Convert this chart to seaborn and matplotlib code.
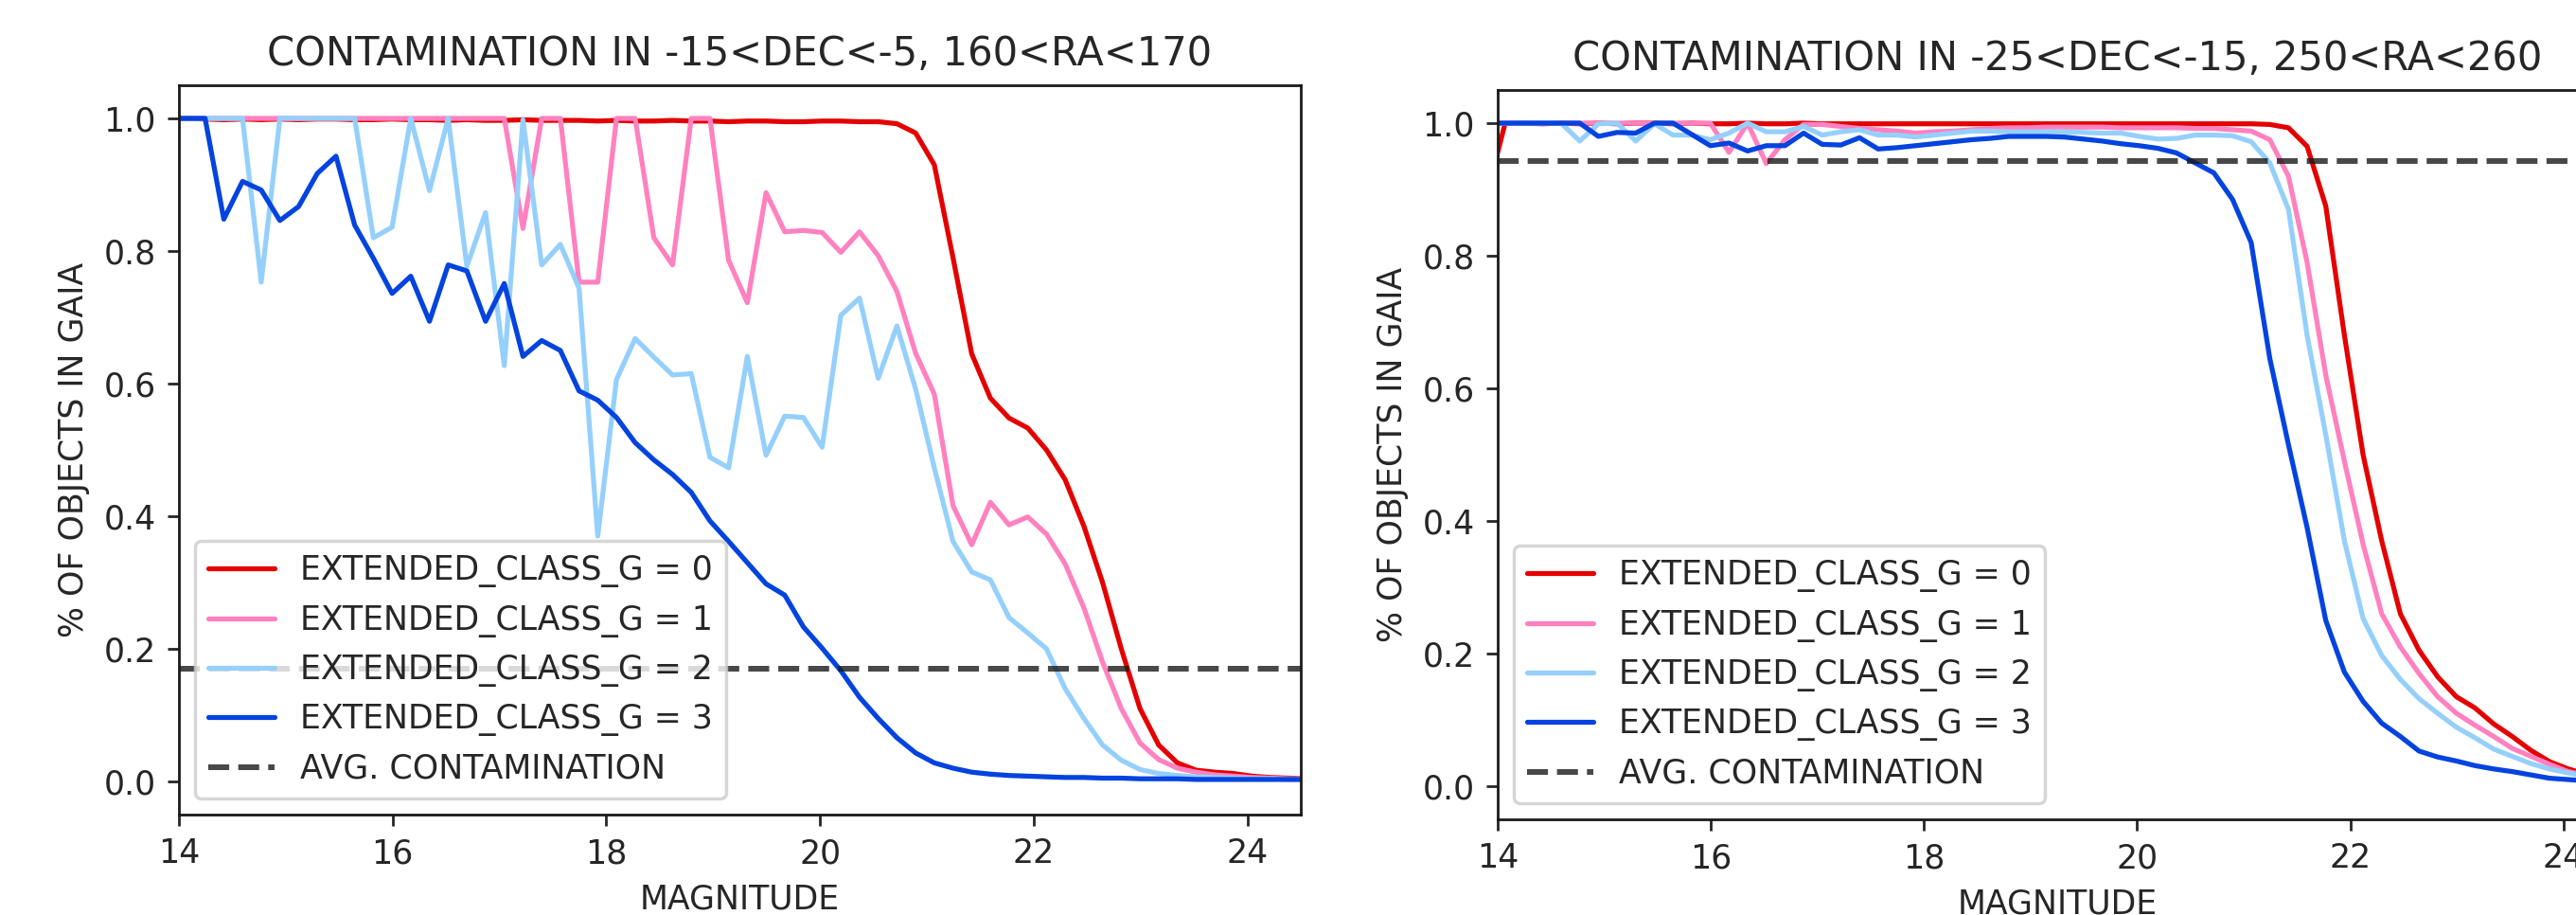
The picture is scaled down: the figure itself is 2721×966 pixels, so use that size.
import matplotlib
matplotlib.use("Agg")
import matplotlib.pyplot as plt
import seaborn as sns

# magnitude bins (bin centres)
MAG = [13.895, 14.070, 14.245, 14.420, 14.595, 14.770, 14.945, 15.120, 15.295, 15.470,
       15.645, 15.820, 15.995, 16.170, 16.345, 16.520, 16.695, 16.870, 17.045, 17.220,
       17.395, 17.570, 17.745, 17.920, 18.095, 18.270, 18.445, 18.620, 18.795, 18.970,
       19.145, 19.320, 19.495, 19.670, 19.845, 20.020, 20.195, 20.370, 20.545, 20.720,
       20.895, 21.070, 21.245, 21.420, 21.595, 21.770, 21.945, 22.120, 22.295, 22.470,
       22.645, 22.820, 22.995, 23.170, 23.345, 23.520, 23.695, 23.870, 24.045, 24.220,
       24.395, 24.570]

# field 1: -15<DEC<-5, 160<RA<170
LEFT_G0 = [1.0, 1.0, 0.999, 0.998, 0.999, 0.998, 0.999, 0.998, 0.999, 0.999,
           0.998, 0.998, 0.999, 0.998, 0.998, 0.997, 0.998, 0.997, 0.997, 0.998,
           0.997, 0.997, 0.997, 0.996, 0.997, 0.996, 0.996, 0.997, 0.996, 0.996,
           0.995, 0.996, 0.996, 0.995, 0.995, 0.996, 0.996, 0.995, 0.995, 0.992,
           0.978, 0.93, 0.79, 0.645, 0.578, 0.548, 0.533, 0.50, 0.455, 0.385,
           0.30, 0.20, 0.11, 0.055, 0.028, 0.017, 0.014, 0.012, 0.008, 0.006,
           0.005, 0.004]
LEFT_G1 = [1.0, 1.0, 1.0, 1.0, 1.0, 1.0, 1.0, 1.0, 1.0, 1.0,
           1.0, 1.0, 1.0, 1.0, 1.0, 1.0, 1.0, 1.0, 1.0, 0.834,
           1.0, 1.0, 0.753, 0.753, 1.0, 1.0, 0.820, 0.779, 1.0, 1.0,
           0.786, 0.722, 0.888, 0.829, 0.831, 0.828, 0.798, 0.829, 0.793, 0.739,
           0.646, 0.584, 0.416, 0.357, 0.421, 0.387, 0.399, 0.373, 0.328, 0.262,
           0.18, 0.11, 0.058, 0.033, 0.02, 0.014, 0.01, 0.008, 0.006, 0.005,
           0.004, 0.004]
LEFT_G2 = [1.0, 1.0, 1.0, 1.0, 1.0, 0.753, 1.0, 1.0, 1.0, 1.0,
           1.0, 0.820, 0.836, 1.0, 0.891, 1.0, 0.777, 0.858, 0.627, 0.998,
           0.779, 0.810, 0.744, 0.37, 0.606, 0.668, 0.64, 0.613, 0.615, 0.489,
           0.473, 0.641, 0.492, 0.551, 0.549, 0.504, 0.703, 0.729, 0.608, 0.687,
           0.592, 0.473, 0.362, 0.316, 0.304, 0.247, 0.224, 0.200, 0.14, 0.095,
           0.055, 0.032, 0.018, 0.012, 0.009, 0.007, 0.006, 0.005, 0.004, 0.004,
           0.003, 0.003]
LEFT_G3 = [1.0, 1.0, 1.0, 0.848, 0.905, 0.892, 0.846, 0.867, 0.917, 0.943,
           0.839, 0.789, 0.736, 0.762, 0.694, 0.779, 0.770, 0.694, 0.751, 0.641,
           0.665, 0.650, 0.589, 0.575, 0.549, 0.511, 0.485, 0.463, 0.436, 0.393,
           0.362, 0.33, 0.298, 0.281, 0.233, 0.201, 0.167, 0.127, 0.095, 0.066,
           0.043, 0.028, 0.02, 0.014, 0.011, 0.009, 0.008, 0.007, 0.006, 0.006,
           0.005, 0.005, 0.004, 0.004, 0.004, 0.003, 0.003, 0.003, 0.003, 0.003,
           0.003, 0.003]
LEFT_AVG = 0.17

# field 2: -25<DEC<-15, 250<RA<260
RIGHT_G0 = [0.89, 1.0, 1.0, 0.999, 1.0, 0.999, 1.0, 0.999, 1.0, 1.0,
            0.999, 1.0, 0.999, 0.999, 1.0, 0.999, 0.999, 1.0, 0.999, 0.999,
            0.999, 0.999, 0.999, 0.999, 0.999, 0.999, 0.999, 0.999, 0.999, 0.999,
            0.999, 0.999, 0.999, 0.999, 0.999, 0.999, 0.999, 0.999, 0.999, 0.999,
            0.999, 0.999, 0.998, 0.993, 0.965, 0.875, 0.68, 0.50, 0.37, 0.26,
            0.205, 0.165, 0.135, 0.118, 0.094, 0.075, 0.054, 0.037, 0.026, 0.018,
            0.014, 0.012]
RIGHT_G1 = [1.0, 1.0, 1.0, 1.0, 1.0, 1.0, 1.0, 1.0, 1.0, 1.0,
            1.0, 1.0, 1.0, 0.956, 1.0, 0.939, 0.975, 0.998, 0.998, 0.995,
            0.992, 0.99, 0.988, 0.985, 0.987, 0.988, 0.99, 0.992, 0.993, 0.993,
            0.994, 0.994, 0.994, 0.994, 0.993, 0.993, 0.993, 0.993, 0.992, 0.992,
            0.99, 0.988, 0.975, 0.92, 0.79, 0.62, 0.49, 0.365, 0.26, 0.21,
            0.17, 0.135, 0.11, 0.092, 0.075, 0.057, 0.045, 0.033, 0.022, 0.016,
            0.012, 0.01]
RIGHT_G2 = [1.0, 1.0, 1.0, 1.0, 1.0, 0.973, 0.999, 1.0, 0.973, 0.999,
            0.982, 0.982, 0.975, 0.985, 1.0, 0.987, 0.987, 0.995, 0.982, 0.987,
            0.99, 0.982, 0.982, 0.979, 0.982, 0.985, 0.988, 0.988, 0.987, 0.987,
            0.987, 0.987, 0.986, 0.985, 0.985, 0.980, 0.976, 0.977, 0.982, 0.982,
            0.981, 0.972, 0.94, 0.87, 0.68, 0.53, 0.37, 0.253, 0.197, 0.161,
            0.132, 0.11, 0.089, 0.073, 0.056, 0.045, 0.034, 0.026, 0.02, 0.015,
            0.012, 0.01]
RIGHT_G3 = [1.0, 1.0, 1.0, 1.0, 1.0, 1.0, 0.980, 0.986, 0.985, 1.0,
            1.0, 0.983, 0.966, 0.970, 0.958, 0.966, 0.966, 0.985, 0.968, 0.967,
            0.978, 0.961, 0.963, 0.966, 0.969, 0.972, 0.975, 0.977, 0.980, 0.980,
            0.980, 0.979, 0.976, 0.973, 0.969, 0.966, 0.962, 0.955, 0.940, 0.925,
            0.885, 0.82, 0.645, 0.515, 0.39, 0.25, 0.172, 0.128, 0.095, 0.075,
            0.053, 0.044, 0.038, 0.031, 0.026, 0.022, 0.017, 0.012, 0.01, 0.008,
            0.007, 0.006]
RIGHT_AVG = 0.943

CLASS_LABELS = ["EXTENDED_CLASS_G = 0", "EXTENDED_CLASS_G = 1",
                "EXTENDED_CLASS_G = 2", "EXTENDED_CLASS_G = 3"]
COLORS = sns.xkcd_palette(["red", "pink", "light blue", "blue"])


def plot_contamination(ax, curves, avg, title):
    """
        Fraction of objects found in Gaia per magnitude bin, one line per class
    """
    for frac, label, color in zip(curves, CLASS_LABELS, COLORS):
        sns.lineplot(x=MAG, y=frac, color=color, label=label, ax=ax)
    ax.axhline(avg, color='k', ls='--', lw=4.3, alpha=0.8, label='AVG. CONTAMINATION')
    ax.set_xlim(14, 24.5)
    ax.set_ylim(-0.05, 1.05)
    ax.set_xticks([14, 16, 18, 20, 22, 24])
    ax.set_yticks([0.0, 0.2, 0.4, 0.6, 0.8, 1.0])
    ax.set_title(title)
    ax.set_xlabel('MAGNITUDE')
    ax.set_ylabel('% OF OBJECTS IN GAIA')
    ax.legend(loc='lower left')


sns.set_theme(style="ticks")
plt.rcParams.update({
    'font.family': ['DejaVu Sans'],
    'font.size': 25,
    'axes.titlesize': 30,
    'axes.labelsize': 25,
    'xtick.labelsize': 25,
    'ytick.labelsize': 25,
    'legend.fontsize': 25,
    'lines.linewidth': 3.75,
    'axes.linewidth': 2.0,
    'axes.edgecolor': 'k',
    'xtick.major.size': 8.75,
    'ytick.major.size': 8.75,
    'xtick.major.width': 2.0,
    'ytick.major.width': 2.0,
    'xtick.major.pad': 8.75,
    'ytick.major.pad': 8.75,
    'axes.labelpad': 10,
    'axes.titlepad': 15,
    'patch.linewidth': 2.5,
})

fig = plt.figure(figsize=(27.21, 9.66), dpi=100)
ax1 = fig.add_axes([189 / 2721, 1 - 860 / 966, 1185 / 2721, 770 / 966])
ax2 = fig.add_axes([1582 / 2721, 1 - 865 / 966, 1182 / 2721, 770 / 966])

plot_contamination(ax1, [LEFT_G0, LEFT_G1, LEFT_G2, LEFT_G3], LEFT_AVG,
                   'CONTAMINATION IN -15<DEC<-5, 160<RA<170')
plot_contamination(ax2, [RIGHT_G0, RIGHT_G1, RIGHT_G2, RIGHT_G3], RIGHT_AVG,
                   'CONTAMINATION IN -25<DEC<-15, 250<RA<260')

fig.savefig('out.png', dpi=100, facecolor='white')
